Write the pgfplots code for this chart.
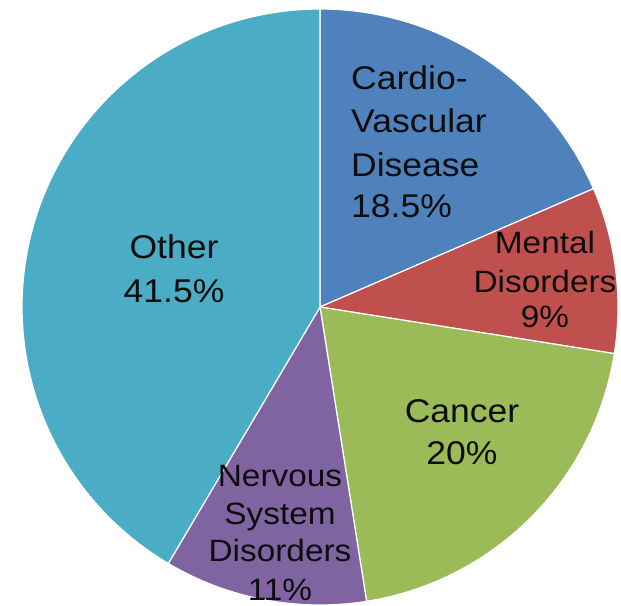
\documentclass[border=0pt]{standalone}
\usepackage{pgfplots}
\pgfplotsset{compat=1.18}
\usepackage{fontspec}
\setmainfont{Liberation Sans}[FakeStretch=1.08]
\definecolor{cCardio}{HTML}{4F81BD}
\definecolor{cMental}{HTML}{C0504D}
\definecolor{cCancer}{HTML}{9BBB59}
\definecolor{cNervous}{HTML}{8064A2}
\definecolor{cOther}{HTML}{4BACC6}
% shares in percent
\def\vCardio{18.5}
\def\vMental{9}
\def\vCancer{20}
\def\vNervous{11}
\def\vOther{41.5}
\pgfmathsetmacro{\aA}{90}
\pgfmathsetmacro{\aB}{\aA-3.6*\vCardio}
\pgfmathsetmacro{\aC}{\aB-3.6*\vMental}
\pgfmathsetmacro{\aD}{\aC-3.6*\vCancer}
\pgfmathsetmacro{\aE}{\aD-3.6*\vNervous}
\pgfmathsetmacro{\aF}{\aE-3.6*\vOther}
\begin{document}
\begin{tikzpicture}
\begin{axis}[
  scale only axis, width=621bp, height=606bp,
  xmin=0, xmax=621, ymin=0, ymax=606,
  hide axis, clip=false,
]
\pgfplotsset{slice/.style={draw=white, line width=1.2bp, samples=90, variable=\t}}
\addplot[slice, fill=cCardio, domain=\aB:\aA] ({320+298*cos(\t)},{299+298*sin(\t)}) -- (axis cs:320,299) -- cycle;
\addplot[slice, fill=cMental, domain=\aC:\aB] ({320+298*cos(\t)},{299+298*sin(\t)}) -- (axis cs:320,299) -- cycle;
\addplot[slice, fill=cCancer, domain=\aD:\aC] ({320+298*cos(\t)},{299+298*sin(\t)}) -- (axis cs:320,299) -- cycle;
\addplot[slice, fill=cNervous, domain=\aE:\aD] ({320+298*cos(\t)},{299+298*sin(\t)}) -- (axis cs:320,299) -- cycle;
\addplot[slice, fill=cOther, domain=\aF:\aE] ({320+298*cos(\t)},{299+298*sin(\t)}) -- (axis cs:320,299) -- cycle;
% labels
\tikzset{big/.style={font=\fontsize{33}{40}\selectfont, inner sep=0pt, text=black!95},
         small/.style={font=\fontsize{31}{36}\selectfont, inner sep=0pt, text=black!95}}
\node[big, anchor=base west] at (axis cs:351,516) {Cardio-};
\node[big, anchor=base west] at (axis cs:351,473) {Vascular};
\node[big, anchor=base west] at (axis cs:351,429) {Disease};
\node[big, anchor=base west] at (axis cs:351,388) {18.5\%};
\node[small, anchor=base] at (axis cs:545,352) {Mental};
\node[small, anchor=base] at (axis cs:545,313) {Disorders};
\node[small, anchor=base] at (axis cs:545,278) {9\%};
\node[big, anchor=base] at (axis cs:462,183) {Cancer};
\node[big, anchor=base] at (axis cs:462,141) {20\%};
\node[small, anchor=base] at (axis cs:280,119) {Nervous};
\node[small, anchor=base] at (axis cs:280,81) {System};
\node[small, anchor=base] at (axis cs:280,44) {Disorders};
\node[small, anchor=base] at (axis cs:280,6) {11\%};
\node[big, anchor=base] at (axis cs:174,347) {Other};
\node[big, anchor=base] at (axis cs:174,303) {41.5\%};
\end{axis}
\pgfresetboundingbox
\path[use as bounding box] (0,0) rectangle (621bp,606bp);
\end{tikzpicture}
\end{document}
